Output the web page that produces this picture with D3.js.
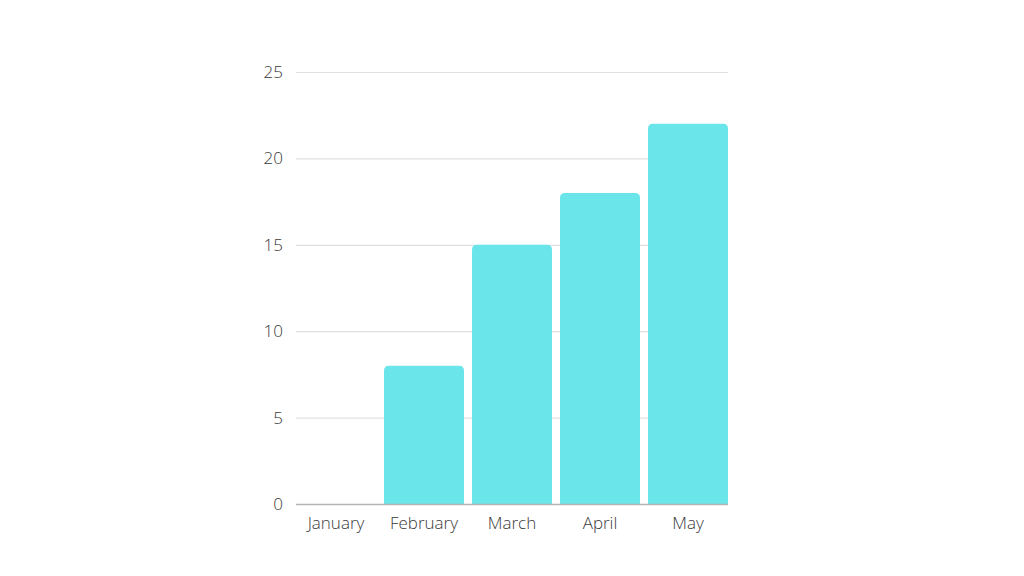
<!DOCTYPE html>
<html><head><meta charset="utf-8">
<script src="https://cdn.jsdelivr.net/npm/d3@7"></script>
<style>body{margin:0;background:#fff}svg{display:block}</style>
</head><body>
<svg id="c" width="1024" height="576"></svg>
<script>
const categories = ["January","February","March","April","May"];
const values = [0, 8, 15, 18, 22];
const yTicks = [0, 5, 10, 15, 20, 25];

const svg = d3.select("#c");
const x = d3.scaleBand().domain(categories).range([296, 728]).paddingInner(1/11).paddingOuter(0);
const y = d3.scaleLinear().domain([0, 25]).range([504, 72]);
const font = "'Open Sans', sans-serif";

// gridlines
svg.append("g").selectAll("line").data(yTicks.filter(d => d > 0)).join("line")
  .attr("x1", 296).attr("x2", 728)
  .attr("y1", d => y(d) + 0.5).attr("y2", d => y(d) + 0.5)
  .attr("stroke", "#e0e0e0").attr("stroke-width", 1.2);

// y labels
svg.append("g").selectAll("text").data(yTicks).join("text")
  .attr("x", 283).attr("y", d => y(d)).attr("dy", "0.35em")
  .attr("text-anchor", "end")
  .attr("font-family", font).attr("font-weight", 300).attr("font-size", 17)
  .attr("fill", "#3a3a3a").text(d => d);

// bars with rounded top
const r = 5;
svg.append("g").selectAll("path").data(values.map((v, i) => ({c: categories[i], v}))).join("path")
  .filter(d => d.v > 0)
  .attr("d", d => {
    const x0 = x(d.c), w = x.bandwidth(), yt = y(d.v), yb = y(0);
    return `M${x0},${yb}V${yt + r}Q${x0},${yt} ${x0 + r},${yt}H${x0 + w - r}Q${x0 + w},${yt} ${x0 + w},${yt + r}V${yb}Z`;
  })
  .attr("fill", "#6ae5e9");

// baseline
svg.append("line").attr("x1", 296).attr("x2", 728)
  .attr("y1", y(0) + 0.5).attr("y2", y(0) + 0.5)
  .attr("stroke", "#b4b4b4").attr("stroke-width", 1.5);

// x labels
svg.append("g").selectAll("text").data(categories).join("text")
  .attr("x", d => x(d) + x.bandwidth() / 2).attr("y", 529)
  .attr("text-anchor", "middle")
  .attr("font-family", font).attr("font-weight", 300).attr("font-size", 17)
  .attr("fill", "#3a3a3a").text(d => d);
</script>
</body></html>
